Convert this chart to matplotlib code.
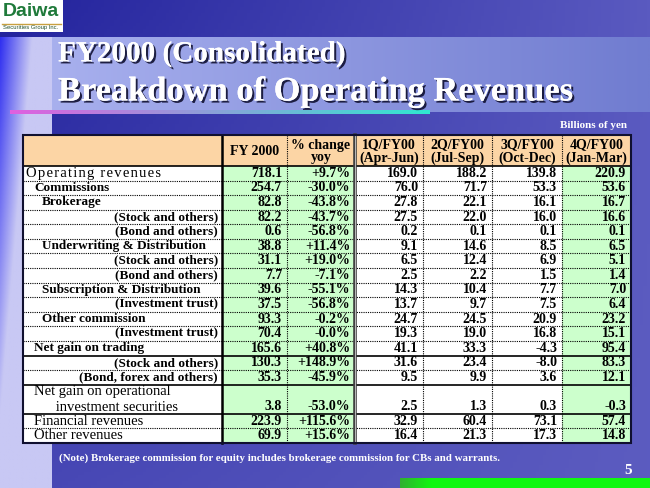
import numpy as np
import matplotlib.pyplot as plt
import matplotlib.patheffects as pe
from matplotlib.patches import Rectangle

# table data (billions of yen)
row_labels = ["Operating revenues", "Commissions", "Brokerage", "(Stock and others)",
              "(Bond and others)", "Underwriting & Distribution", "(Stock and others)",
              "(Bond and others)", "Subscription & Distribution", "(Investment trust)",
              "Other commission", "(Investment trust)", "Net gain on trading",
              "(Stock and others)", "(Bond, forex and others)",
              "Net gain on operational\n      investment securities",
              "Financial revenues", "Other revenues"]
fy2000 = [718.1, 254.7, 82.8, 82.2, 0.6, 38.8, 31.1, 7.7, 39.6, 37.5, 93.3, 70.4,
          165.6, 130.3, 35.3, 3.8, 223.9, 69.9]
yoy = [9.7, -30.0, -43.8, -43.7, -56.8, 11.4, 19.0, -7.1, -55.1, -56.8, -0.2, -0.0,
       40.8, 148.9, -45.9, -53.0, 115.6, 15.6]
q1 = [169.0, 76.0, 27.8, 27.5, 0.2, 9.1, 6.5, 2.5, 14.3, 13.7, 24.7, 19.3, 41.1, 31.6, 9.5, 2.5, 32.9, 16.4]
q2 = [188.2, 71.7, 22.1, 22.0, 0.1, 14.6, 12.4, 2.2, 10.4, 9.7, 24.5, 19.0, 33.3, 23.4, 9.9, 1.3, 60.4, 21.3]
q3 = [139.8, 53.3, 16.1, 16.0, 0.1, 8.5, 6.9, 1.5, 7.7, 7.5, 20.9, 16.8, -4.3, -8.0, 3.6, 0.3, 73.1, 17.3]
q4 = [220.9, 53.6, 16.7, 16.6, 0.1, 6.5, 5.1, 1.4, 7.0, 6.4, 23.2, 15.1, 95.4, 83.3, 12.1, -0.3, 57.4, 14.8]
col_headers = ["FY 2000", "% change\nyoy", "1Q/FY00\n(Apr-Jun)", "2Q/FY00\n(Jul-Sep)",
               "3Q/FY00\n(Oct-Dec)", "4Q/FY00\n(Jan-Mar)"]

# row layout: indent level (-1 = right aligned), height units, bold, solid line below
indent = [0, 1, 2, -1, -1, 2, -1, -1, 2, -1, 2, -1, 1, -1, -1, 1, 1, 1]
heights = [1] * 15 + [2, 1, 1]
bold = [False, True, True, True, True, True, True, True, True, True, True, True, True,
        True, True, False, False, False]
solid_below = [False] * 12 + [True, False, True, True, False, True]

SERIF = ['Liberation Serif', 'DejaVu Serif']
HAIR = '\u200a'

W, H = 650, 488
fig = plt.figure(figsize=(6.5, 4.88), dpi=100)
ax = fig.add_axes([0, 0, 1, 1])
ax.set_xlim(0, W)
ax.set_ylim(H, 0)
ax.axis('off')

# background gradient
xx, yy = np.meshgrid(np.linspace(0, 1, 200), np.linspace(0, 1, 150))
c_tl = np.array([0x22, 0x22, 0x9c]) / 255
c_tr = np.array([0x5a, 0x5a, 0xc0]) / 255
c_bl = np.array([0x46, 0x46, 0xb4]) / 255
c_br = np.array([0x5c, 0x5c, 0xc0]) / 255
bg = ((1 - xx) * (1 - yy))[..., None] * c_tl + (xx * (1 - yy))[..., None] * c_tr \
    + ((1 - xx) * yy)[..., None] * c_bl + (xx * yy)[..., None] * c_br
ax.imshow(bg, extent=[0, W, H, 0], aspect='auto', zorder=0)

# left light strip
sx, sy = np.meshgrid(np.linspace(0, 1, 60), np.linspace(0, 1, 100))
blue = np.array([0x30, 0x30, 0xf0]) / 255
lav = np.array([0xc8, 0xc8, 0xf4]) / 255
w = np.clip(sx * 1.6 + sy * 1.2, 0, 1)
strip = (1 - w)[..., None] * blue + w[..., None] * lav
ax.imshow(strip, extent=[0, 52, H, 37], aspect='auto', zorder=1)

# title band
bx = np.linspace(0, 1, 200)[None, :]
band = (1 - bx)[..., None] * np.array([0xa8, 0xb0, 0xee]) / 255 + bx[..., None] * np.array([0x70, 0x7c, 0xd0]) / 255
ax.imshow(band, extent=[52, W, 112, 37], aspect='auto', zorder=1)

# underline gradient
ul = (1 - bx)[..., None] * np.array([0xe0, 0x60, 0xe0]) / 255 + bx[..., None] * np.array([0x30, 0xe8, 0xd0]) / 255
ax.imshow(ul, extent=[10, 430, 114, 110], aspect='auto', zorder=2)

# bottom green bar
gb = np.clip(bx * 8, 0, 1)
green = (1 - gb)[..., None] * np.array([0x30, 0xb0, 0x30]) / 255 + gb[..., None] * np.array([0x10, 0xf8, 0x10]) / 255
ax.imshow(green, extent=[400, W, H, 478], aspect='auto', zorder=1)

# logo
ax.add_patch(Rectangle((0, 0), 63, 32, facecolor='white', edgecolor='none', zorder=2))
ax.text(31, 11, "Daiwa", color='#1f7a3a', fontsize=14, fontweight='bold',
        family='Liberation Sans', ha='center', va='center', zorder=3)
ax.plot([2, 61], [23.5, 23.5], color='#c8a040', lw=1, zorder=3)
ax.text(31, 28, "Securities Group Inc.", color='#1f4f2a', fontsize=4.2,
        family='Liberation Sans', ha='center', va='center', zorder=3)

# titles
shadow = [pe.withSimplePatchShadow(offset=(1.5, -1.5), shadow_rgbFace='#101030', alpha=0.9), pe.Normal()]
ax.text(58, 54, "FY2000 (Consolidated)", color='white', fontsize=21, fontweight='bold',
        family=SERIF, va='center', ha='left', path_effects=shadow, zorder=4)
ax.text(58, 92, "Breakdown of Operating Revenues", color='white', fontsize=24.8, fontweight='bold',
        family=SERIF, va='center', ha='left', path_effects=shadow, zorder=4)
ax.text(627, 125, "Billions of yen", color='white', fontsize=8, fontweight='bold',
        family=SERIF, va='center', ha='right', zorder=4)

# table
col_x = [23, 222, 287, 355, 423, 492, 562, 631]
top, head_h, unit = 135, 31, 14.58
body_top = top + head_h
green_fill, peach, white = '#ccffcc', '#fcd5a5', 'white'
col_fill = [white, green_fill, green_fill, white, white, white, green_fill]

row_tops = [body_top]
for h in heights:
    row_tops.append(row_tops[-1] + h * unit)
bottom = row_tops[-1]

for j in range(7):
    ax.add_patch(Rectangle((col_x[j], top), col_x[j + 1] - col_x[j], head_h,
                           facecolor=peach, edgecolor='none', zorder=2))
    ax.add_patch(Rectangle((col_x[j], body_top), col_x[j + 1] - col_x[j], bottom - body_top,
                           facecolor=col_fill[j], edgecolor='none', zorder=2))

tfont = dict(family=SERIF, color='black', zorder=5)
for j, hdr in enumerate(col_headers):
    cx = (col_x[j + 1] + col_x[j + 2]) / 2
    ax.text(cx, top + head_h / 2 + 1, hdr, ha='center', va='center', fontsize=10,
            fontweight='bold', linespacing=1.0, **tfont)

values = [fy2000, [f"{v:+.1f}%" for v in yoy], q1, q2, q3, q4]
for i, lab in enumerate(row_labels):
    y0, y1 = row_tops[i], row_tops[i + 1]
    yc = (y0 + y1) / 2
    wt = 'bold' if bold[i] else 'normal'
    fs = 9.5 if bold[i] else 10.5
    if i == 0:
        lab = HAIR.join(lab)
    if indent[i] < 0:
        ax.text(col_x[1] - 4, yc, lab, ha='right', va='center', fontsize=fs, fontweight=wt, **tfont)
    else:
        lx = col_x[0] + 3 + indent[i] * 8
        ax.text(lx, yc, lab, ha='left', va='center', fontsize=fs, fontweight=wt,
                linespacing=1.25, **tfont)
    ny = y1 - unit / 2
    for j, col in enumerate(values):
        v = col[i]
        s = v if isinstance(v, str) else f"{v:.1f}"
        ax.text(col_x[j + 2] - 5, ny, s, ha='right', va='center', fontsize=10,
                fontweight='bold', **tfont)
    if i < len(row_labels) - 1:
        if solid_below[i]:
            ax.plot([col_x[0], col_x[-1]], [y1, y1], color='black', lw=1.2, zorder=4)
        else:
            ax.plot([col_x[0], col_x[-1]], [y1, y1], color='black', lw=0.8,
                    ls=(0, (1, 1)), zorder=4)

ax.plot([col_x[0], col_x[-1]], [body_top, body_top], color='black', lw=1.2, zorder=4)
for j in [2, 4, 5, 6]:
    ax.plot([col_x[j], col_x[j]], [top, bottom], color='black', lw=0.8, ls=(0, (1, 1)), zorder=4)
ax.plot([col_x[1], col_x[1]], [top, bottom], color='black', lw=1.8, zorder=4)
ax.plot([col_x[3], col_x[3]], [top, bottom], color='#404040', lw=2.6, zorder=4)
ax.plot([col_x[3], col_x[3]], [top, bottom], color='#d0d0d0', lw=0.6, zorder=4)
ax.add_patch(Rectangle((col_x[0], top), col_x[-1] - col_x[0], bottom - top, facecolor='none',
                       edgecolor='#101030', lw=1.5, zorder=6))

ax.text(59, 458, "(Note) Brokerage commission for equity includes brokerage commission for CBs and warrants.",
        color='white', fontsize=7.8, fontweight='bold', family=SERIF, va='center', zorder=4)
ax.text(632, 470, "5", color='white', fontsize=11, fontweight='bold', family=SERIF,
        ha='right', va='center', zorder=4)

fig.savefig("out.png", dpi=100)
